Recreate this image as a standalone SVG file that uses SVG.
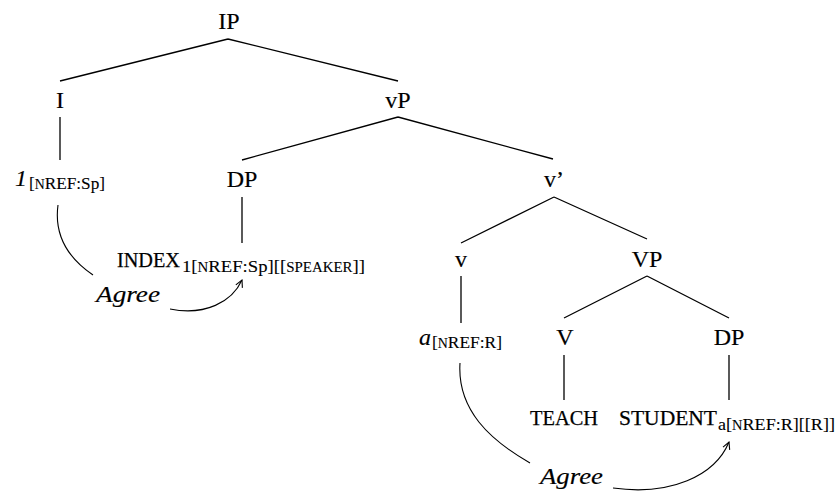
<svg xmlns="http://www.w3.org/2000/svg" width="838" height="492" viewBox="0 0 838 492">
  <style>
    text { font-family: "Liberation Serif", "Times New Roman", serif; fill: #000; stroke: #000; stroke-width: 0.15; }
    .lbl { font-size: 24px; text-anchor: middle; }
    .it { font-style: italic; font-size: 24px; }
    .sc { font-size: 21px; stroke-width: 0.25; }
    .sub { font-size: 17.5px; stroke-width: 0.1; }
    .sm { font-size: 14px; }
    .edge { stroke: #000; stroke-width: 1.3; fill: none; }
    .agree { stroke: #000; stroke-width: 1.1; fill: none; }
  </style>
  <defs>
    <marker id="open" markerUnits="userSpaceOnUse" markerWidth="12" markerHeight="12" viewBox="-10 -6 12 12" refX="0" refY="0" orient="auto">
      <path d="M-7,-3.6 L0,0 L-7,3.6" fill="none" stroke="#000" stroke-width="1.1"/>
    </marker>
  </defs>

  <!-- tree branches and Agree arcs -->
  <g id="connectors">
    <path class="edge" d="M228,39 L60,81 M228,39 L398,81"/>
    <path class="edge" d="M60,117 L60,160"/>
    <path class="edge" d="M398,117 L242,160 M398,117 L553,159"/>
    <path class="edge" d="M242,197 L242,243"/>
    <path class="edge" d="M554,197 L461,243 M554,197 L647,239"/>
    <path class="edge" d="M461,276 L461,323"/>
    <path class="edge" d="M647,276 L564,318 M647,276 L729,318"/>
    <path class="edge" d="M564,355 L564,400"/>
    <path class="edge" d="M729,355 L729,400"/>

    <path class="agree" d="M58,205 C54,235 68,258 93,275"/>
    <path class="agree" d="M170,309 C205,316 232,302 242,280" marker-end="url(#open)"/>
    <path class="agree" d="M460,363 C457,410 490,440 530,463"/>
    <path class="agree" d="M613,488 C670,496 715,476 729,442" marker-end="url(#open)"/>
  </g>

  <g id="IP"><text class="lbl" x="229" y="29">IP</text></g>
  <g id="I"><text class="lbl" x="60" y="108">I</text></g>
  <g id="vP"><text class="lbl" x="398" y="108">vP</text></g>

  <g id="one">
    <text class="it" x="15" y="186">1</text>
    <text class="sub" x="29" y="189" textLength="76" lengthAdjust="spacingAndGlyphs">[<tspan class="sm">N</tspan>REF:Sp]</text>
  </g>

  <g id="DP1"><text class="lbl" x="242" y="187">DP</text></g>

  <g id="INDEX">
    <text class="sc" x="117" y="267" textLength="63" lengthAdjust="spacingAndGlyphs">INDEX</text>
    <text class="sub" x="182" y="272" textLength="183" lengthAdjust="spacingAndGlyphs">1[<tspan class="sm">N</tspan>REF:Sp][[<tspan class="sm">SPEAKER</tspan>]]</text>
  </g>

  <g id="agree1"><text class="it" x="96" y="302" textLength="64" lengthAdjust="spacingAndGlyphs">Agree</text></g>

  <g id="vbar"><text class="lbl" x="554" y="187">v’</text></g>
  <g id="v"><text class="lbl" x="461" y="267">v</text></g>
  <g id="VP"><text class="lbl" x="647" y="267">VP</text></g>

  <g id="a">
    <text class="it" x="419" y="345">a</text>
    <text class="sub" x="432" y="348" textLength="70" lengthAdjust="spacingAndGlyphs">[<tspan class="sm">N</tspan>REF:R]</text>
  </g>

  <g id="V"><text class="lbl" x="565" y="345">V</text></g>
  <g id="DP2"><text class="lbl" x="729" y="345">DP</text></g>

  <g id="TEACH"><text class="sc" x="530" y="425" textLength="68" lengthAdjust="spacingAndGlyphs">TEACH</text></g>

  <g id="STUDENT">
    <text class="sc" x="619" y="425" textLength="98" lengthAdjust="spacingAndGlyphs">STUDENT</text>
    <text class="sub" x="718" y="430" textLength="117" lengthAdjust="spacingAndGlyphs">a[<tspan class="sm">N</tspan>REF:R][[R]]</text>
  </g>

  <g id="agree2"><text class="it" x="540" y="484" textLength="63" lengthAdjust="spacingAndGlyphs">Agree</text></g>
</svg>
